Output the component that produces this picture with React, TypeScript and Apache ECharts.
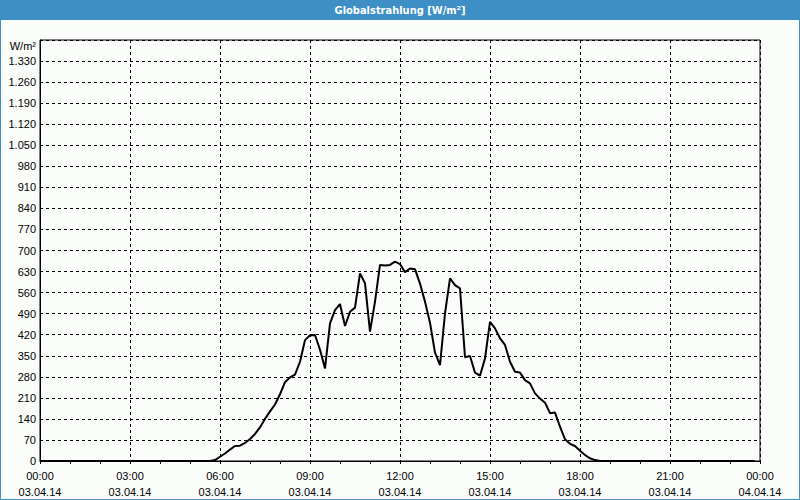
import React, { useEffect, useRef } from "react";
import * as echarts from "echarts";

const times = [
  "00:00", "05:30", "05:40", "05:50", "06:00", "06:10", "06:20", "06:30", "06:40", "06:50",
  "07:00", "07:10", "07:20", "07:30", "07:40", "07:50", "08:00", "08:10", "08:20", "08:30",
  "08:40", "08:50", "09:00", "09:10", "09:20", "09:30", "09:40", "09:50", "10:00", "10:10",
  "10:20", "10:30", "10:40", "10:50", "11:00", "11:10", "11:20", "11:30", "11:40", "11:50",
  "12:00", "12:10", "12:20", "12:30", "12:40", "12:50", "13:00", "13:10", "13:20", "13:30",
  "13:40", "13:50", "14:00", "14:10", "14:20", "14:30", "14:40", "14:50", "15:00", "15:10",
  "15:20", "15:30", "15:40", "15:50", "16:00", "16:10", "16:20", "16:30", "16:40", "16:50",
  "17:00", "17:10", "17:20", "17:30", "17:40", "17:50", "18:00", "18:10", "18:20", "18:30",
  "18:40", "23:50",
];

const irradiance = [
  0, 0, 0, 3, 14, 25, 38, 50, 51, 60,
  73, 90, 112, 140, 165, 188, 222, 262, 278, 287,
  330, 402, 418, 419, 370, 308, 458, 502, 522, 449,
  496, 510, 624, 591, 430, 530, 652, 650, 652, 663,
  655, 628, 640, 638, 590, 530, 460, 360, 319, 491,
  607, 585, 574, 345, 349, 294, 284, 341, 463, 441,
  408, 386, 330, 297, 294, 269, 258, 225, 208, 194,
  159, 161, 114, 72, 57, 50, 34, 20, 9, 3,
  0, 0,
];

const xTickMinutes = [0, 180, 360, 540, 720, 900, 1080, 1260, 1440];
const xTickLabels = [
  "00:00\n03.04.14", "03:00\n03.04.14", "06:00\n03.04.14", "09:00\n03.04.14",
  "12:00\n03.04.14", "15:00\n03.04.14", "18:00\n03.04.14", "21:00\n03.04.14",
  "00:00\n04.04.14",
];

const titleText = "Globalstrahlung [W/m²]";
const unitText = "W/m²";

const toMin = (t: string) => {
  const [h, m] = t.split(":").map(Number);
  return h * 60 + m;
};

const fmtDe = (v: number) => String(v).replace(/\B(?=(\d{3})+(?!\d))/g, ".");

export default function App() {
  const ref = useRef<HTMLDivElement>(null);
  useEffect(() => {
    if (!ref.current) return;
    const chart = echarts.init(ref.current, undefined, { renderer: "svg" });
    const blue = "#3d8fc6";
    const font = "Liberation Sans, Arial, sans-serif";
    chart.setOption({
      animation: false,
      backgroundColor: "#fbfdfb",
      graphic: [
        { type: "rect", shape: { x: 0, y: 0, width: 800, height: 20 }, style: { fill: blue }, z: 0 },
        {
          type: "rect",
          shape: { x: 0.5, y: 0.5, width: 799, height: 499 },
          style: { fill: "none", stroke: blue, lineWidth: 1 },
          z: 0,
        },
        {
          type: "text",
          x: 400,
          y: 10,
          style: {
            text: titleText,
            fill: "#ffffff",
            font: "bold 11px 'Liberation Sans Narrow', 'DejaVu Sans Condensed', sans-serif",
            align: "center",
            verticalAlign: "middle",
          },
          z: 1,
        },
        {
          type: "text",
          x: 36,
          y: 46,
          style: {
            text: unitText,
            fill: "#000000",
            font: "11px " + font,
            align: "right",
            verticalAlign: "middle",
          },
        },
      ],
      grid: { left: 40, top: 40, right: 40, bottom: 39, show: true, borderColor: "#000", borderWidth: 1 },
      xAxis: {
        type: "value",
        min: 0,
        max: 1440,
        interval: 180,
        axisLine: { show: true, lineStyle: { color: "#000", width: 1 } },
        axisTick: { show: true, length: 3, lineStyle: { color: "#000" } },
        minorTick: { show: true, splitNumber: 3, length: 3, lineStyle: { color: "#000" } },
        splitLine: { show: true, lineStyle: { color: "#000", type: [3, 3], width: 1 } },
        axisLabel: {
          color: "#000",
          fontFamily: font,
          fontSize: 11,
          lineHeight: 16,
          margin: 7,
          formatter: (v: number) => {
            const i = xTickMinutes.indexOf(v);
            return i >= 0 ? xTickLabels[i] : "";
          },
        },
      },
      yAxis: {
        type: "value",
        min: 0,
        max: 1400,
        interval: 70,
        axisLine: { show: true, lineStyle: { color: "#000", width: 1 } },
        axisTick: { show: false },
        splitLine: { show: true, lineStyle: { color: "#000", type: [3, 3], width: 1 } },
        axisLabel: {
          color: "#000",
          fontFamily: font,
          fontSize: 11,
          margin: 4,
          formatter: (v: number) => (v >= 1400 ? "" : fmtDe(v)),
        },
      },
      series: [
        {
          type: "line",
          data: times.map((t, i) => [toMin(t), irradiance[i]]),
          showSymbol: false,
          symbol: "none",
          lineStyle: { color: "#000", width: 2 },
          z: 5,
        },
      ],
    });
    return () => chart.dispose();
  }, []);
  return (
    <div
      ref={ref}
      style={{ position: "fixed", left: 0, top: 0, width: 800, height: 500 }}
    />
  );
}
